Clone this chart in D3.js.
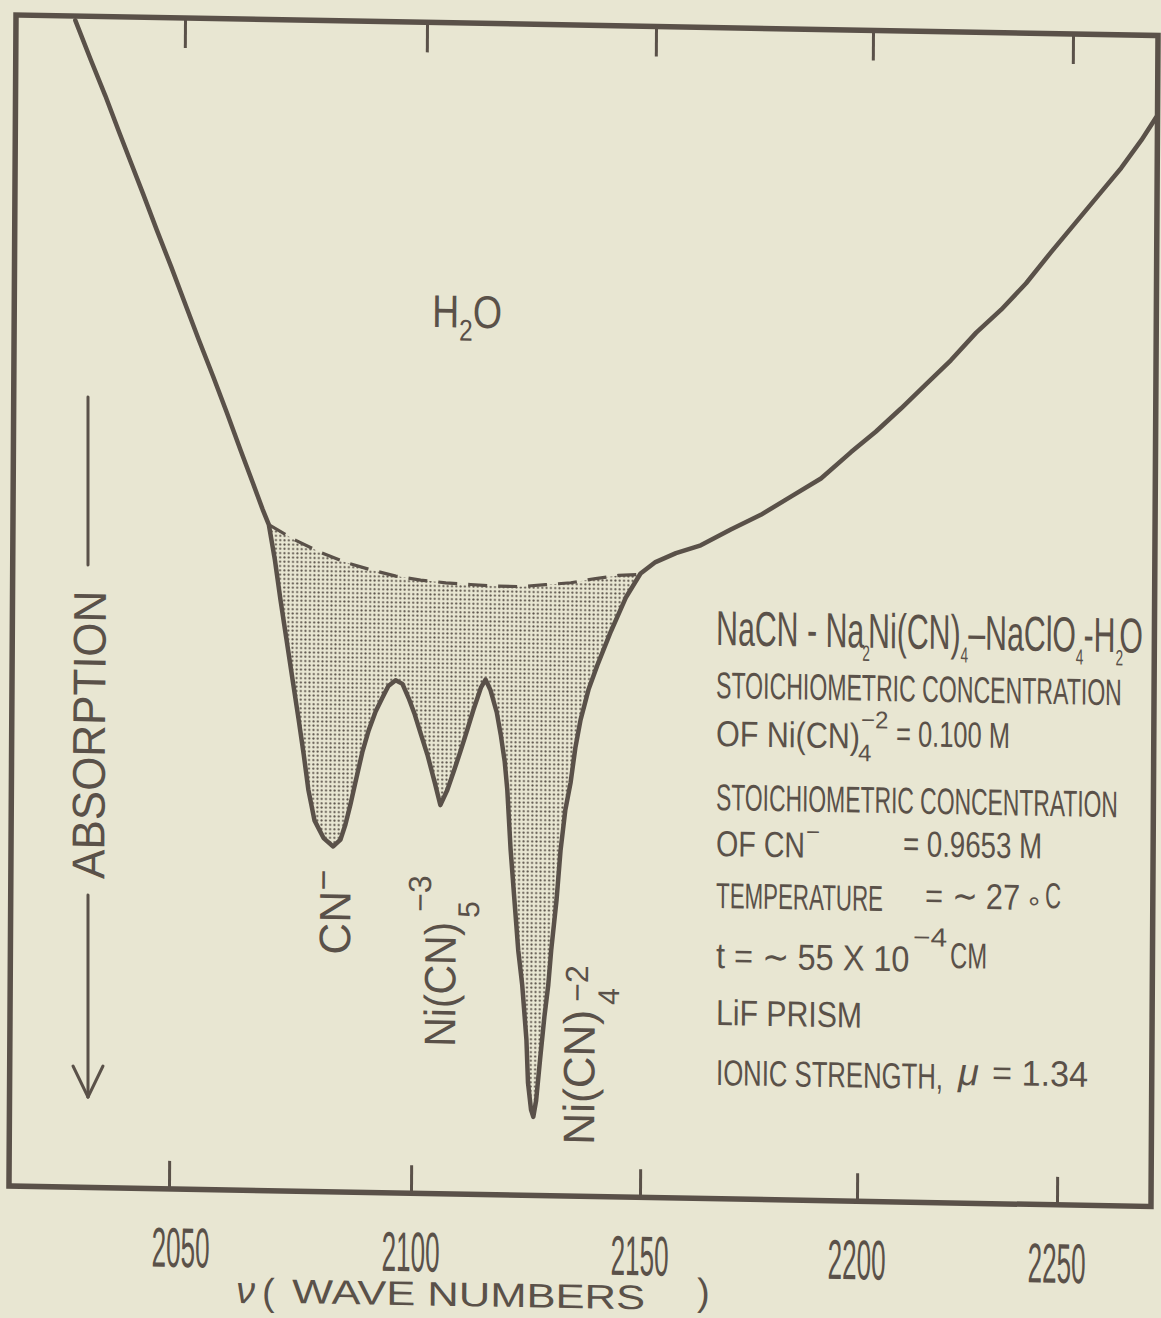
<!DOCTYPE html>
<html>
<head>
<meta charset="utf-8">
<script src="https://cdn.jsdelivr.net/npm/d3@7"></script>
<style>
  html, body { margin: 0; padding: 0; background: #e8e6d2; }
  svg { display: block; }
</style>
</head>
<body>
<div id="chart"></div>
<script>
// Infrared spectrum, NaCN - Na2Ni(CN)4 - NaClO4 - H2O.
// Signal is the pen position in % of the frame height (0 = bottom, 100 = top).

const TICKS = [2050, 2100, 2150, 2200, 2250];

const WAVENUMBER = [
  2029.2, 2032.5, 2035.5, 2038.4, 2040.9, 2043.4, 2046.3, 2049.3, 2052.2, 2055.1,
  2058.1, 2061.0, 2063.9, 2066.4, 2068.5, 2069.8, 2071.1, 2072.3, 2073.6, 2074.9,
  2076.2, 2077.3, 2078.3, 2079.6, 2081.5, 2083.5, 2085.0, 2086.0, 2087.0, 2088.0,
  2089.4, 2090.7, 2092.1, 2093.5, 2094.7, 2096.2, 2097.6, 2098.9, 2100.2, 2101.5,
  2103.0, 2104.6, 2105.9, 2107.4, 2108.7, 2110.2, 2111.7, 2113.0, 2114.6, 2115.6,
  2116.7, 2118.1, 2119.0, 2119.9, 2120.5, 2121.3, 2122.2, 2123.1, 2124.0, 2125.0,
  2125.4, 2126.1, 2126.6, 2127.2, 2128.0, 2128.9, 2129.7, 2130.3, 2131.4, 2132.2,
  2133.2, 2134.3, 2135.3, 2136.4, 2138.1, 2140.0, 2142.9, 2146.1, 2149.3, 2152.7,
  2157.4, 2163.1, 2170.0, 2176.9, 2183.8, 2190.7, 2197.6, 2203.6, 2209.8, 2216.0,
  2222.2, 2228.5, 2234.7, 2240.9, 2247.1, 2253.3, 2259.5, 2264.5, 2269.5, 2273.2
];

const SIGNAL = [
  99.8, 96.4, 93.4, 90.3, 87.7, 85.1, 82.0, 78.9, 75.8, 72.7,
  69.6, 66.5, 63.3, 60.6, 58.3, 57.0, 54.0, 50.6, 47.2, 43.8,
  40.4, 37.4, 34.4, 31.8, 30.3, 29.6, 30.2, 31.5, 33.2, 35.1,
  37.7, 39.6, 41.2, 42.4, 43.4, 43.9, 43.6, 42.4, 41.0, 39.4,
  37.6, 35.3, 33.3, 34.6, 36.1, 37.9, 39.8, 41.5, 43.4, 44.1,
  43.2, 41.3, 39.4, 37.1, 34.7, 29.6, 25.3, 21.0, 18.1, 13.4,
  9.7, 7.4, 6.8, 8.2, 11.7, 15.4, 18.1, 21.1, 25.4, 29.6,
  33.1, 35.4, 38.4, 40.8, 43.4, 45.5, 48.4, 51.3, 53.4, 54.4,
  55.2, 55.9, 57.3, 58.6, 60.2, 61.8, 64.1, 65.9, 67.9, 70.0,
  72.1, 74.5, 76.5, 78.8, 81.5, 84.1, 86.7, 88.8, 91.2, 93.2
];

// dashed background (water) line under the cyanide bands
const BASE_WAVENUMBER = [2069.8, 2075.4, 2080.6, 2085.7, 2090.9, 2096.1, 2101.3, 2106.8,
                         2112.2, 2117.7, 2123.1, 2128.6, 2134.1, 2139.5, 2144.5, 2148.8];
const BASE_SIGNAL     = [57.0, 55.7, 54.7, 53.9, 53.3, 52.8, 52.5, 52.3,
                         52.2, 52.1, 52.1, 52.3, 52.5, 52.9, 53.2, 53.3];

// ── Layout ───────────────────────────────────────────────────────────────────

const W = 1161, H = 1318;
const INK = "#5a5149", PAPER = "#e8e6d2";
const FRAME = { left: 10, right: 1152, top: 15, bottom: 1186 };
// the scanned sheet is slightly skewed
const SKEW = { s: 0.018, k: 0.006, e: 6.1, f: -0.2 };

// page (display) coords -> unskewed chart coords
function inv(X, Y) {
  const y = (Y - SKEW.s * X + SKEW.s * SKEW.e - SKEW.f) / (1 + SKEW.s * SKEW.k);
  return [X + SKEW.k * y - SKEW.e, y];
}

// prism instrument: wavenumber scale is not linear on paper
const x = d3.scaleLinear().domain(TICKS).range([170, 412, 641, 858, 1058]);
const y = d3.scaleLinear().domain([0, 100]).range([1187, 17]);

const svg = d3.select("#chart").append("svg")
  .attr("width", W)
  .attr("height", H);

svg.append("rect").attr("width", W).attr("height", H).attr("fill", PAPER);

const defs = svg.append("defs");
const pat = defs.append("pattern")
  .attr("id", "stipple")
  .attr("patternUnits", "userSpaceOnUse")
  .attr("width", 4.3).attr("height", 4.3);
pat.append("circle").attr("cx", 2.15).attr("cy", 2.15).attr("r", 1.05).attr("fill", INK);

defs.append("clipPath").attr("id", "plot").append("rect")
  .attr("x", FRAME.left).attr("y", FRAME.top)
  .attr("width", FRAME.right - FRAME.left)
  .attr("height", FRAME.bottom - FRAME.top);

const g = svg.append("g")
  .attr("transform", `matrix(1,${SKEW.s},${-SKEW.k},1,${SKEW.e},${SKEW.f})`)
  .attr("font-family", "'Liberation Sans', Arial, sans-serif");

// ── Spectrum ─────────────────────────────────────────────────────────────────

const spectrum = WAVENUMBER.map((w, i) => [w, SIGNAL[i]]);
const base = BASE_WAVENUMBER.map((w, i) => [w, BASE_SIGNAL[i]]);
const line = d3.line().x(d => x(d[0])).y(d => y(d[1]));

const lo = base[0][0], hi = base[base.length - 1][0];
const inner = spectrum.filter(d => d[0] > lo && d[0] < hi).reverse();

g.append("path")
  .attr("d", line([...base, ...inner]) + "Z")
  .attr("fill", "url(#stipple)");

g.append("path")
  .attr("d", line(base))
  .attr("fill", "none")
  .attr("stroke", INK)
  .attr("stroke-width", 3.2)
  .attr("stroke-dasharray", "19,11");

g.append("path")
  .attr("d", line(spectrum))
  .attr("clip-path", "url(#plot)")
  .attr("fill", "none")
  .attr("stroke", INK)
  .attr("stroke-width", 4.5)
  .attr("stroke-linejoin", "round")
  .attr("stroke-linecap", "round");

// ── Frame and ticks ──────────────────────────────────────────────────────────

g.append("rect")
  .attr("x", FRAME.left).attr("y", FRAME.top)
  .attr("width", FRAME.right - FRAME.left)
  .attr("height", FRAME.bottom - FRAME.top)
  .attr("fill", "none")
  .attr("stroke", INK)
  .attr("stroke-width", 5.5);

const bottomAxis = g.append("g")
  .attr("transform", `translate(0,${FRAME.bottom})`)
  .call(d3.axisBottom(x).tickValues(TICKS).tickSize(-28).tickFormat(""));
bottomAxis.select(".domain").remove();
bottomAxis.selectAll(".tick line").attr("stroke", INK).attr("stroke-width", 3);

// top ticks sit a little right of the bottom ones on the original sheet
const topAxis = g.append("g")
  .attr("transform", `translate(9,${FRAME.top})`)
  .call(d3.axisTop(x).tickValues(TICKS).tickSize(-30).tickFormat(""));
topAxis.select(".domain").remove();
topAxis.selectAll(".tick line").attr("stroke", INK).attr("stroke-width", 3);

// ── Text helpers ─────────────────────────────────────────────────────────────

function placeU(el, xu, yu, w, rot) {
  const k = w ? w / el.node().getBBox().width : 1;
  el.attr("transform", `translate(${xu},${yu})` + (rot ? ` rotate(${rot})` : "") + ` scale(${k},1)`);
  return el;
}

function place(el, X, Y, w, rot) {
  const [xu, yu] = inv(X, Y);
  return placeU(el, xu, yu, w, rot);
}

function put(str, X, Y, size, w, opts = {}) {
  const el = g.append("text").attr("font-size", size).attr("fill", INK).text(str);
  if (opts.style) el.attr("font-style", opts.style);
  if (opts.anchor) el.attr("text-anchor", opts.anchor);
  return place(el, X, Y, w, opts.rot);
}

// pieces: [text, baselineShift, fontSize, dx]
function rich(pieces, size) {
  const el = g.append("text").attr("font-size", size).attr("fill", INK);
  let shift = 0;
  pieces.forEach(([t, s, fs, dx]) => {
    const ts = el.append("tspan").attr("dy", s - shift).text(t);
    if (fs) ts.attr("font-size", fs);
    if (dx) ts.attr("dx", dx);
    shift = s;
  });
  return el;
}

// ── Tick labels and axis titles ──────────────────────────────────────────────

const LABEL_NUDGE = { 2050: 12 };
TICKS.forEach(t => {
  const el = g.append("text")
    .attr("font-size", 56)
    .attr("text-anchor", "middle")
    .attr("fill", INK)
    .text(t);
  placeU(el, x(t) + (LABEL_NUDGE[t] || 0), 1264, 58);
});

put("\u03bd", 236, 1303, 38, 0, { style: "italic" });
put("(", 262, 1305, 38, 0);
put("WAVE NUMBERS", 292, 1303, 34, 353);
put(")", 697, 1305, 38, 0);

put("ABSORPTION", 105, 735, 46, 288, { rot: -90, anchor: "middle" });

function seg(X1, Y1, X2, Y2) {
  const [x1, y1] = inv(X1, Y1), [x2, y2] = inv(X2, Y2);
  g.append("line")
    .attr("x1", x1).attr("y1", y1).attr("x2", x2).attr("y2", y2)
    .attr("stroke", INK).attr("stroke-width", 3).attr("stroke-linecap", "round");
}
seg(88, 397, 88, 565);
seg(88, 895, 88, 1097);
seg(73, 1066, 88, 1097);
seg(103, 1066, 88, 1097);

// ── Band labels ──────────────────────────────────────────────────────────────

place(rich([["H", 0], ["2", 13, 30], ["O", 0]], 46), 432, 327, 70);

place(rich([["CN", 0], ["\u2212", -15, 36]], 44), 350, 955, 85, -90);

put("Ni(CN)", 455, 1047, 44, 125, { rot: -90 });
put("5", 479, 918, 30, 0, { rot: -90 });
put("\u22123", 431, 912, 32, 0, { rot: -90 });

put("Ni(CN)", 594, 1145, 44, 135, { rot: -90 });
put("4", 619, 1005, 30, 0, { rot: -90 });
put("\u22122", 588, 1002, 32, 0, { rot: -90 });

// ── Conditions block ─────────────────────────────────────────────────────────

place(rich([
  ["NaCN - Na", 0], ["2", 13, 22, -3], ["Ni(CN)", 0, null, -3], ["4", 13, 22],
  ["\u2013NaClO", 0], ["4", 13, 22], ["-H", 0], ["2", 13, 22], ["O", 0, null, -6]
], 49), 716, 645, 427);

put("STOICHIOMETRIC CONCENTRATION", 716, 698, 37, 406);
put("OF Ni(CN)", 716, 746, 36, 144);
put("4", 858, 761, 24, 0);
put("\u22122", 861, 728, 24, 0);
put("= 0.100 M", 896, 746, 36, 114);

put("STOICHIOMETRIC CONCENTRATION", 716, 810, 37, 402);
put("OF   CN", 716, 856, 36, 89);
put("\u2212", 806, 840, 24, 0);
put("= 0.9653 M", 903, 856, 36, 139);

put("TEMPERATURE", 716, 908, 36, 167);
put("= \u223c 27", 925, 908, 36, 95);
put("\u00b0", 1028, 918, 30, 0);
put("C", 1045, 908, 36, 16);

put("t = \u223c  55 X 10", 716, 968, 36, 194);
put("\u22124", 913, 946, 26, 34);
put("CM", 950, 968, 36, 37);

put("LiF  PRISM", 716, 1025, 36, 146);

put("IONIC STRENGTH,", 716, 1085, 36, 227);
put("\u03bc", 958, 1085, 38, 0, { style: "italic" });
put("= 1.34", 992, 1085, 36, 96);
</script>
</body>
</html>
